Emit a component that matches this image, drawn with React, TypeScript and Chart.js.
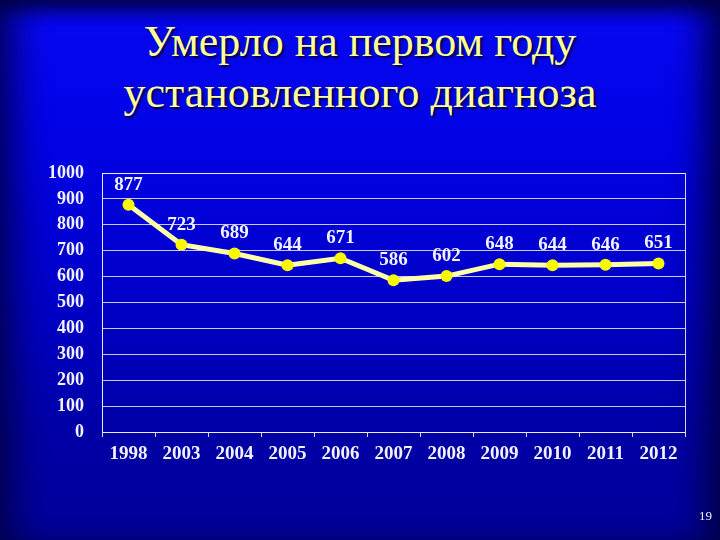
import React, { useEffect, useRef } from "react";
import { Chart, registerables } from "chart.js";

Chart.register(...registerables);

const years = ["1998", "2003", "2004", "2005", "2006", "2007", "2008", "2009", "2010", "2011", "2012"];
const deaths = [877, 723, 689, 644, 671, 586, 602, 648, 644, 646, 651];
const yMin = 0;
const yMax = 1000;
const yStep = 100;
const titleLines = ["Умерло на первом году", "установленного диагноза"];
const pageNumber = "19";

const SERIF = "'Liberation Serif', 'Times New Roman', serif";

const frameAndLabels = {
  id: "frameAndLabels",
  afterDraw(chart: any) {
    const { ctx, chartArea } = chart;
    ctx.save();
    ctx.strokeStyle = "rgba(235,235,255,0.9)";
    ctx.lineWidth = 1;
    ctx.strokeRect(
      Math.round(chartArea.left) + 0.5,
      Math.round(chartArea.top) + 0.5,
      Math.round(chartArea.right - chartArea.left),
      Math.round(chartArea.bottom - chartArea.top)
    );
    ctx.restore();
  },
  afterDatasetsDraw(chart: any) {
    const { ctx } = chart;
    const meta = chart.getDatasetMeta(0);
    ctx.save();
    ctx.font = "bold 19px " + SERIF;
    ctx.fillStyle = "#f2f2ff";
    ctx.textAlign = "center";
    ctx.textBaseline = "middle";
    meta.data.forEach((pt: any, i: number) => {
      ctx.fillText(String(deaths[i]), pt.x, pt.y - 20);
    });
    ctx.restore();
  },
};

function LineChart() {
  const ref = useRef<HTMLCanvasElement | null>(null);
  useEffect(() => {
    if (!ref.current) return;
    const chart = new Chart(ref.current, {
      type: "line",
      data: {
        labels: years,
        datasets: [
          {
            data: deaths,
            borderColor: "#ffffa8",
            borderWidth: 5,
            backgroundColor: "#f8f800",
            pointBackgroundColor: "#f8f800",
            pointBorderColor: "#f8f800",
            pointRadius: 6,
            pointBorderWidth: 0,
            tension: 0,
            fill: false,
          },
        ],
      },
      options: {
        animation: false,
        responsive: false,
        maintainAspectRatio: false,
        layout: { padding: { left: 30, right: 35, top: 173, bottom: 60 } },
        plugins: { legend: { display: false }, tooltip: { enabled: false }, title: { display: false } },
        scales: {
          x: {
            offset: true,
            grid: {
              offset: true,
              drawOnChartArea: false,
              drawTicks: true,
              tickLength: 5,
              color: "rgba(235,235,255,0.9)",
            },
            border: { display: true, color: "rgba(235,235,255,0.9)", width: 1 },
            ticks: {
              color: "#f2f2ff",
              font: { family: SERIF, size: 19, weight: "bold" },
              padding: 6,
              maxRotation: 0,
              autoSkip: false,
            },
            afterFit: (s: any) => {
              s.height = 48;
            },
          },
          y: {
            min: yMin,
            max: yMax,
            grid: { color: "rgba(235,235,255,0.85)", lineWidth: 1, drawTicks: false },
            border: { display: true, color: "rgba(235,235,255,0.9)" },
            ticks: {
              stepSize: yStep,
              color: "#f2f2ff",
              font: { family: SERIF, size: 18, weight: "bold" },
              padding: 18,
              callback: (v: any) => String(v),
            },
            afterFit: (s: any) => {
              s.width = 72;
            },
          },
        },
      },
      plugins: [frameAndLabels],
    });
    return () => chart.destroy();
  }, []);
  return <canvas ref={ref} width={720} height={540} style={{ position: "absolute", left: 0, top: 0 }} />;
}

export default function App() {
  return (
    <div
      style={{
        position: "fixed",
        left: 0,
        top: 0,
        width: 720,
        height: 540,
        overflow: "hidden",
        background: "linear-gradient(180deg, #0808f2 0%, #0202e6 25%, #0000c8 55%, #0000a6 80%, #00009a 100%)",
      }}
    >
      <div
        style={{
          position: "absolute",
          inset: 0,
          boxShadow:
            "inset 0 14px 18px -4px rgba(0,0,60,0.85), inset 30px 0 30px -10px rgba(0,0,60,0.6), inset -30px 0 30px -10px rgba(0,0,60,0.7)",
        }}
      />
      <div
        style={{
          position: "absolute",
          left: 0,
          top: 16,
          width: 720,
          textAlign: "center",
          fontFamily: SERIF,
          fontSize: 44,
          lineHeight: "51px",
          color: "#ffff99",
          textShadow: "2px 2px 2px #000040",
        }}
      >
        {titleLines.map((l) => (
          <div key={l}>{l}</div>
        ))}
      </div>
      <LineChart />
      <div
        style={{
          position: "absolute",
          right: 8,
          top: 508,
          fontFamily: SERIF,
          fontSize: 13,
          color: "#f0f0ff",
        }}
      >
        {pageNumber}
      </div>
    </div>
  );
}
